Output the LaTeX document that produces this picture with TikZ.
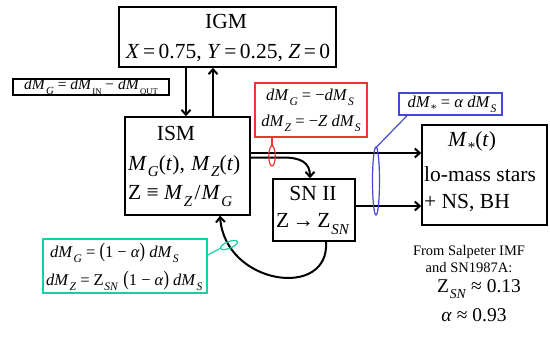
\documentclass[tikz,border=0pt]{standalone}
\usepackage{fontspec}
\setmainfont{Liberation Serif}
\usepackage{graphicx}
\usetikzlibrary{arrows.meta}
\definecolor{rbox}{RGB}{235,55,50}
\definecolor{bbox}{RGB}{70,70,215}
\definecolor{tbox}{RGB}{25,205,165}
\newcommand{\iv}[1]{\textit{#1}}
\newcommand{\sbx}[1]{\kern0.04em\raisebox{-0.3em}{\scalebox{0.7}{#1}}}
\newcommand{\eqs}{\hspace{0.25em}=\hspace{0.25em}}
\newcommand{\eqn}{\hspace{0.16em}=\hspace{0.16em}}
\newcommand{\rel}[1]{\hspace{0.25em}#1\hspace{0.25em}}
\begin{document}
\begin{tikzpicture}[x=1bp,y=-1bp,
  box/.style={draw=black,line width=1.5bp,inner sep=0pt,minimum width=#1},
  cbox/.style={draw=#1,line width=1.5bp,inner sep=0pt},
  big/.style={inner sep=0pt,font=\fontsize{21.5bp}{23bp}\selectfont},
  small/.style={inner sep=0pt,font=\fontsize{16.5bp}{18bp}\selectfont},
  arr/.style={line width=2bp,-{Straight Barb[length=5bp,width=9bp,line width=2bp]}},
  plain/.style={line width=2bp}]
\useasboundingbox (0,0) rectangle (550,336);
% boxes
\node[box=217bp,minimum height=60bp] (igm) at (227.5,37) {};
\node[box=125bp,minimum height=98bp] (ism) at (187.5,166) {};
\node[box=82bp,minimum height=62bp] (sn) at (314,210) {};
\node[box=125bp,minimum height=100bp] (st) at (484.5,175) {};
\node[box=156bp,minimum height=16bp] (eq) at (91,87) {};
\node[cbox=rbox,minimum width=112bp,minimum height=54bp] (rb) at (311,110) {};
\node[cbox=bbox,minimum width=103bp,minimum height=22bp] (bb) at (450.5,104) {};
\node[cbox=tbox,minimum width=164bp,minimum height=54bp] (tb) at (125,266) {};
% texts
\node[big] (t1) at (226,21) {IGM};
\node[big] (t2) at (228,53) {\iv{X}\eqn0.75, \iv{Y}\eqn0.25, \iv{Z}\eqn0};
\node[big] (t3) at (176,133) {ISM};
\node[big,anchor=west] (t4) at (128,166) {\iv{M}\sbx{\iv{G}}(\iv{t}),\hspace{0.3em}\iv{M}\sbx{\iv{Z}}(\iv{t})};
\node[big,anchor=west] (t5) at (128,196) {Z\rel{≡}\iv{M}\sbx{\iv{Z}}\hspace{0.1em}/\hspace{0.05em}\iv{M}\sbx{\iv{G}}};
\node[big] (t6) at (313,193) {SN II};
\node[big,anchor=west] (t7) at (276,224) {Z\hspace{0.15em}→\hspace{0.15em}Z\sbx{\iv{SN}}};
\node[big] (t8) at (472,142) {\iv{M}\sbx{*}(\iv{t})};
\node[big,anchor=west] (t9) at (424,174) {lo-mass stars};
\node[big,anchor=west] (t10) at (424,203) {+\hspace{0.25em}NS, BH};
\node[inner sep=0pt,font=\fontsize{15.5bp}{17bp}\selectfont] (e1) at (91,86.5) {\iv{dM}\sbx{\iv{G}}\eqs\iv{dM}\sbx{\scalebox{0.8}{IN}}\rel{−}\iv{dM}\sbx{\scalebox{0.8}{OUT}}};
\node[small] (r1) at (310,97) {\iv{dM}\sbx{\iv{G}}\eqs−\iv{dM}\sbx{\iv{S}}};
\node[small] (r2) at (311,123) {\iv{dM}\sbx{\iv{Z}}\eqs−\iv{Z}\hspace{0.25em}\iv{dM}\sbx{\iv{S}}};
\node[small] (b1) at (452,104) {\iv{dM}\sbx{*}\eqs\iv{α}\hspace{0.25em}\iv{dM}\sbx{\iv{S}}};
\node[small,anchor=west] (c1) at (50,253) {\iv{dM}\sbx{\iv{G}}\eqs\scalebox{1}[1.25]{(}1\rel{−}\iv{α}\scalebox{1}[1.25]{)}\hspace{0.25em}\iv{dM}\sbx{\iv{S}}};
\node[small,anchor=west] (c2) at (46,281) {\iv{dM}\sbx{\iv{Z}}\eqs Z\sbx{\iv{SN}}\hspace{0.3em}\scalebox{1}[1.25]{(}1\rel{−}\iv{α}\scalebox{1}[1.25]{)}\hspace{0.25em}\iv{dM}\sbx{\iv{S}}};
\node[inner sep=0pt,font=\fontsize{14.5bp}{16bp}\selectfont] (f1) at (469,252) {From Salpeter IMF};
\node[inner sep=0pt,font=\fontsize{14.5bp}{16bp}\selectfont] (f2) at (469,268) {and SN1987A:};
\node[inner sep=0pt,font=\fontsize{19.5bp}{21bp}\selectfont] (f3) at (479,289) {Z\sbx{\iv{SN}}\rel{≈}0.13};
\node[inner sep=0pt,font=\fontsize{19.5bp}{21bp}\selectfont] (f4) at (474,315) {\iv{α}\rel{≈}0.93};
% arrows IGM <-> ISM
\draw[arr] (igm.south -| 186,0) -- (ism.north -| 186,0);
\draw[arr] (ism.north -| 213,0) -- (igm.south -| 213,0);
% ISM -> stars
\draw[arr] (ism.east |- 0,153) -- (st.west |- 0,153);
\draw[arr] (ism.east |- 0,157.5) -- (283,157.5) .. controls (300,157.5) and (310,162) .. (sn.north -| 310,0);
% SN -> stars
\draw[arr] (sn.east |- 0,206) -- (st.west |- 0,206);
% SN -> ISM
\draw[arr] (sn.south -| 326,0) .. controls (330,300) and (225,285) .. (ism.south -| 220,0);
% ellipses and callout lines
\coordinate (re) at (272,156);
\coordinate (be) at (376,181);
\coordinate (te) at (229,245);
\draw[rbox,line width=1.2bp] (re) ellipse [x radius=3.2bp,y radius=10bp];
\draw[rbox,line width=1.2bp] (rb.south -| re) -- (272,146);
\draw[bbox,line width=1.2bp] (be) ellipse [x radius=3.5bp,y radius=34bp];
\draw[bbox,line width=1.2bp] (bb.south -| 407,0) -- (376.5,147);
\draw[tbox,line width=1.2bp,rotate around={22:(te)}] (te) ellipse [x radius=9bp,y radius=3.3bp];
\draw[tbox,line width=1.2bp] (tb.east |- 0,255) -- (221,248);
\end{tikzpicture}
\end{document}
